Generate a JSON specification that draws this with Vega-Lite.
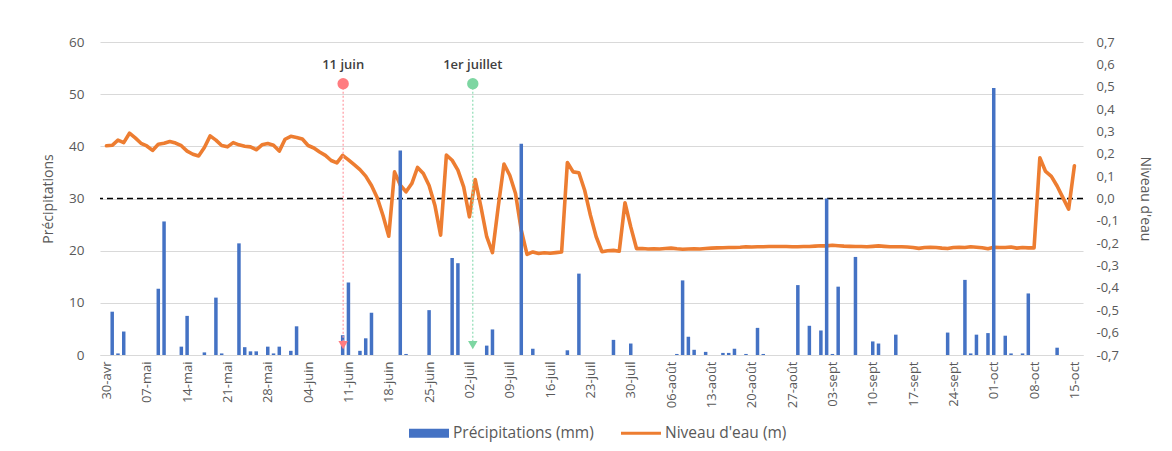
{
  "$schema": "https://vega.github.io/schema/vega-lite/v6.json",
  "width": 983,
  "height": 313,
  "autosize": "none",
  "padding": {"left": 100, "top": 42, "right": 89, "bottom": 96},
  "background": "white",
  "config": {
    "view": {"stroke": null},
    "font": "Open Sans",
    "locale": {
      "number": {"decimal": ",", "thousands": " ", "grouping": [3], "currency": ["", " €"], "minus": "-"},
      "time": {
        "dateTime": "%A %e %B %Y à %X",
        "date": "%d/%m/%Y",
        "time": "%H:%M:%S",
        "periods": ["AM", "PM"],
        "days": ["dimanche", "lundi", "mardi", "mercredi", "jeudi", "vendredi", "samedi"],
        "shortDays": ["dim", "lun", "mar", "mer", "jeu", "ven", "sam"],
        "months": ["janvier", "février", "mars", "avril", "mai", "juin", "juillet", "août", "septembre", "octobre", "novembre", "décembre"],
        "shortMonths": ["janv", "févr", "mars", "avr", "mai", "juin", "juil", "août", "sept", "oct", "nov", "déc"]
      }
    },
    "axis": {
      "labelColor": "#595959",
      "titleColor": "#595959",
      "labelFont": "Open Sans",
      "titleFont": "Open Sans",
      "labelFontSize": 13.5,
      "titleFontSize": 14,
      "titleFontWeight": "normal",
      "domain": false,
      "ticks": false,
      "grid": false,
      "labelOverlap": false,
      "labelSeparation": 0
    }
  },
  "datasets": {
    "journalier": [
      {"date": "2021-04-30T00:00", "niveau": 0.236},
      {"date": "2021-05-01T00:00", "precip": 8.3, "niveau": 0.238},
      {"date": "2021-05-02T00:00", "precip": 0.3, "niveau": 0.261},
      {"date": "2021-05-03T00:00", "precip": 4.5, "niveau": 0.25},
      {"date": "2021-05-04T00:00", "niveau": 0.292},
      {"date": "2021-05-05T00:00", "niveau": 0.271},
      {"date": "2021-05-06T00:00", "niveau": 0.247},
      {"date": "2021-05-07T00:00", "niveau": 0.235},
      {"date": "2021-05-08T00:00", "niveau": 0.215},
      {"date": "2021-05-09T00:00", "precip": 12.7, "niveau": 0.243},
      {"date": "2021-05-10T00:00", "precip": 25.6, "niveau": 0.247},
      {"date": "2021-05-11T00:00", "niveau": 0.255},
      {"date": "2021-05-12T00:00", "niveau": 0.248},
      {"date": "2021-05-13T00:00", "precip": 1.6, "niveau": 0.236},
      {"date": "2021-05-14T00:00", "precip": 7.5, "niveau": 0.212},
      {"date": "2021-05-15T00:00", "niveau": 0.198},
      {"date": "2021-05-16T00:00", "niveau": 0.19},
      {"date": "2021-05-17T00:00", "precip": 0.5, "niveau": 0.228},
      {"date": "2021-05-18T00:00", "niveau": 0.28},
      {"date": "2021-05-19T00:00", "precip": 11.0, "niveau": 0.261},
      {"date": "2021-05-20T00:00", "precip": 0.3, "niveau": 0.237},
      {"date": "2021-05-21T00:00", "niveau": 0.231},
      {"date": "2021-05-22T00:00", "niveau": 0.25},
      {"date": "2021-05-23T00:00", "precip": 21.4, "niveau": 0.24},
      {"date": "2021-05-24T00:00", "precip": 1.5, "niveau": 0.234},
      {"date": "2021-05-25T00:00", "precip": 0.7, "niveau": 0.231},
      {"date": "2021-05-26T00:00", "precip": 0.7, "niveau": 0.218},
      {"date": "2021-05-27T00:00", "niveau": 0.24},
      {"date": "2021-05-28T00:00", "precip": 1.6, "niveau": 0.246},
      {"date": "2021-05-29T00:00", "precip": 0.3, "niveau": 0.238},
      {"date": "2021-05-30T00:00", "precip": 1.6, "niveau": 0.212},
      {"date": "2021-05-31T00:00", "niveau": 0.265},
      {"date": "2021-06-01T00:00", "precip": 0.8, "niveau": 0.278},
      {"date": "2021-06-02T00:00", "precip": 5.5, "niveau": 0.273},
      {"date": "2021-06-03T00:00", "niveau": 0.266},
      {"date": "2021-06-04T00:00", "niveau": 0.237},
      {"date": "2021-06-05T00:00", "niveau": 0.226},
      {"date": "2021-06-06T00:00", "niveau": 0.208},
      {"date": "2021-06-07T00:00", "niveau": 0.193},
      {"date": "2021-06-08T00:00", "niveau": 0.17},
      {"date": "2021-06-09T00:00", "niveau": 0.159},
      {"date": "2021-06-10T00:00", "precip": 3.8, "niveau": 0.193},
      {"date": "2021-06-11T00:00", "precip": 13.9, "niveau": 0.173},
      {"date": "2021-06-12T00:00", "niveau": 0.151},
      {"date": "2021-06-13T00:00", "precip": 0.8, "niveau": 0.129},
      {"date": "2021-06-14T00:00", "precip": 3.2, "niveau": 0.1},
      {"date": "2021-06-15T00:00", "precip": 8.1, "niveau": 0.058},
      {"date": "2021-06-16T00:00", "niveau": 0.003},
      {"date": "2021-06-17T00:00", "niveau": -0.076},
      {"date": "2021-06-18T00:00", "niveau": -0.169},
      {"date": "2021-06-19T00:00", "niveau": 0.119},
      {"date": "2021-06-20T00:00", "precip": 39.2, "niveau": 0.06},
      {"date": "2021-06-21T00:00", "precip": 0.2, "niveau": 0.03},
      {"date": "2021-06-22T00:00", "niveau": 0.067},
      {"date": "2021-06-23T00:00", "niveau": 0.139},
      {"date": "2021-06-24T00:00", "niveau": 0.112},
      {"date": "2021-06-25T00:00", "precip": 8.6, "niveau": 0.058},
      {"date": "2021-06-26T00:00", "niveau": -0.03},
      {"date": "2021-06-27T00:00", "niveau": -0.164},
      {"date": "2021-06-28T00:00", "niveau": 0.194},
      {"date": "2021-06-29T00:00", "precip": 18.6, "niveau": 0.171},
      {"date": "2021-06-30T00:00", "precip": 17.6, "niveau": 0.127},
      {"date": "2021-07-01T00:00", "niveau": 0.052},
      {"date": "2021-07-02T00:00", "niveau": -0.082},
      {"date": "2021-07-03T00:00", "niveau": 0.085},
      {"date": "2021-07-04T00:00", "niveau": -0.037},
      {"date": "2021-07-05T00:00", "precip": 1.8, "niveau": -0.171},
      {"date": "2021-07-06T00:00", "precip": 4.9, "niveau": -0.242},
      {"date": "2021-07-07T00:00", "niveau": -0.037},
      {"date": "2021-07-08T00:00", "niveau": 0.154},
      {"date": "2021-07-09T00:00", "niveau": 0.104},
      {"date": "2021-07-10T00:00", "niveau": 0.022},
      {"date": "2021-07-11T00:00", "precip": 40.5, "niveau": -0.142},
      {"date": "2021-07-12T00:00", "niveau": -0.25},
      {"date": "2021-07-13T00:00", "precip": 1.2, "niveau": -0.239},
      {"date": "2021-07-14T00:00", "niveau": -0.246},
      {"date": "2021-07-15T00:00", "niveau": -0.243},
      {"date": "2021-07-16T00:00", "niveau": -0.245},
      {"date": "2021-07-17T00:00", "niveau": -0.242},
      {"date": "2021-07-18T00:00", "niveau": -0.239},
      {"date": "2021-07-19T00:00", "precip": 0.9, "niveau": 0.161},
      {"date": "2021-07-20T00:00", "niveau": 0.119},
      {"date": "2021-07-21T00:00", "precip": 15.6, "niveau": 0.115},
      {"date": "2021-07-22T00:00", "niveau": 0.037},
      {"date": "2021-07-23T00:00", "niveau": -0.075},
      {"date": "2021-07-24T00:00", "niveau": -0.171},
      {"date": "2021-07-25T00:00", "niveau": -0.238},
      {"date": "2021-07-26T00:00", "niveau": -0.234},
      {"date": "2021-07-27T00:00", "precip": 2.9, "niveau": -0.232},
      {"date": "2021-07-28T00:00", "niveau": -0.236},
      {"date": "2021-07-29T00:00", "niveau": -0.019},
      {"date": "2021-07-30T00:00", "precip": 2.2, "niveau": -0.127},
      {"date": "2021-07-31T00:00", "niveau": -0.224},
      {"date": "2021-08-01T00:00", "niveau": -0.224},
      {"date": "2021-08-02T00:00", "niveau": -0.226},
      {"date": "2021-08-03T00:00", "niveau": -0.225},
      {"date": "2021-08-04T00:00", "niveau": -0.226},
      {"date": "2021-08-05T00:00", "niveau": -0.224},
      {"date": "2021-08-06T00:00", "niveau": -0.222},
      {"date": "2021-08-07T00:00", "precip": 0.2, "niveau": -0.225},
      {"date": "2021-08-08T00:00", "precip": 14.3, "niveau": -0.227},
      {"date": "2021-08-09T00:00", "precip": 3.5, "niveau": -0.226},
      {"date": "2021-08-10T00:00", "precip": 1.0, "niveau": -0.225},
      {"date": "2021-08-11T00:00", "niveau": -0.226},
      {"date": "2021-08-12T00:00", "precip": 0.6, "niveau": -0.224},
      {"date": "2021-08-13T00:00", "niveau": -0.222},
      {"date": "2021-08-14T00:00", "niveau": -0.221},
      {"date": "2021-08-15T00:00", "precip": 0.4, "niveau": -0.22},
      {"date": "2021-08-16T00:00", "precip": 0.4, "niveau": -0.219},
      {"date": "2021-08-17T00:00", "precip": 1.2, "niveau": -0.219},
      {"date": "2021-08-18T00:00", "niveau": -0.218},
      {"date": "2021-08-19T00:00", "precip": 0.2, "niveau": -0.216},
      {"date": "2021-08-20T00:00", "niveau": -0.217},
      {"date": "2021-08-21T00:00", "precip": 5.2, "niveau": -0.216},
      {"date": "2021-08-22T00:00", "precip": 0.2, "niveau": -0.216},
      {"date": "2021-08-23T00:00", "niveau": -0.215},
      {"date": "2021-08-24T00:00", "niveau": -0.215},
      {"date": "2021-08-25T00:00", "niveau": -0.215},
      {"date": "2021-08-26T00:00", "niveau": -0.215},
      {"date": "2021-08-27T00:00", "niveau": -0.216},
      {"date": "2021-08-28T00:00", "precip": 13.4, "niveau": -0.216},
      {"date": "2021-08-29T00:00", "niveau": -0.215},
      {"date": "2021-08-30T00:00", "precip": 5.6, "niveau": -0.215},
      {"date": "2021-08-31T00:00", "niveau": -0.213},
      {"date": "2021-09-01T00:00", "precip": 4.7, "niveau": -0.211},
      {"date": "2021-09-02T00:00", "precip": 30.0, "niveau": -0.212},
      {"date": "2021-09-03T00:00", "precip": 0.2, "niveau": -0.209},
      {"date": "2021-09-04T00:00", "precip": 13.1, "niveau": -0.211},
      {"date": "2021-09-05T00:00", "niveau": -0.213},
      {"date": "2021-09-06T00:00", "niveau": -0.214},
      {"date": "2021-09-07T00:00", "precip": 18.8, "niveau": -0.215},
      {"date": "2021-09-08T00:00", "niveau": -0.215},
      {"date": "2021-09-09T00:00", "niveau": -0.216},
      {"date": "2021-09-10T00:00", "precip": 2.6, "niveau": -0.214},
      {"date": "2021-09-11T00:00", "precip": 2.2, "niveau": -0.212},
      {"date": "2021-09-12T00:00", "niveau": -0.214},
      {"date": "2021-09-13T00:00", "niveau": -0.216},
      {"date": "2021-09-14T00:00", "precip": 3.9, "niveau": -0.216},
      {"date": "2021-09-15T00:00", "niveau": -0.216},
      {"date": "2021-09-16T00:00", "niveau": -0.217},
      {"date": "2021-09-17T00:00", "niveau": -0.219},
      {"date": "2021-09-18T00:00", "niveau": -0.223},
      {"date": "2021-09-19T00:00", "niveau": -0.219},
      {"date": "2021-09-20T00:00", "niveau": -0.218},
      {"date": "2021-09-21T00:00", "niveau": -0.219},
      {"date": "2021-09-22T00:00", "niveau": -0.222},
      {"date": "2021-09-23T00:00", "precip": 4.3, "niveau": -0.224},
      {"date": "2021-09-24T00:00", "niveau": -0.219},
      {"date": "2021-09-25T00:00", "niveau": -0.218},
      {"date": "2021-09-26T00:00", "precip": 14.4, "niveau": -0.219},
      {"date": "2021-09-27T00:00", "precip": 0.3, "niveau": -0.216},
      {"date": "2021-09-28T00:00", "precip": 3.9, "niveau": -0.218},
      {"date": "2021-09-29T00:00", "niveau": -0.22},
      {"date": "2021-09-30T00:00", "precip": 4.2, "niveau": -0.225},
      {"date": "2021-10-01T00:00", "precip": 51.2, "niveau": -0.218},
      {"date": "2021-10-02T00:00", "niveau": -0.219},
      {"date": "2021-10-03T00:00", "precip": 3.7, "niveau": -0.219},
      {"date": "2021-10-04T00:00", "precip": 0.3, "niveau": -0.217},
      {"date": "2021-10-05T00:00", "niveau": -0.222},
      {"date": "2021-10-06T00:00", "precip": 0.3, "niveau": -0.219},
      {"date": "2021-10-07T00:00", "precip": 11.8, "niveau": -0.221},
      {"date": "2021-10-08T00:00", "niveau": -0.221},
      {"date": "2021-10-09T00:00", "niveau": 0.182},
      {"date": "2021-10-10T00:00", "niveau": 0.121},
      {"date": "2021-10-11T00:00", "niveau": 0.099},
      {"date": "2021-10-12T00:00", "precip": 1.4, "niveau": 0.056},
      {"date": "2021-10-13T00:00", "niveau": 0.004},
      {"date": "2021-10-14T00:00", "niveau": -0.048},
      {"date": "2021-10-15T00:00", "niveau": 0.146}
    ],
    "reperes": [
      {"date": "2021-06-10T02:00", "label": "11 juin"},
      {"date": "2021-07-02T14:00", "label": "1er juillet"}
    ]
  },
  "layer": [
    {
      "layer": [
        {
          "data": {"name": "journalier"},
          "mark": {"type": "bar", "width": 3.5},
          "encoding": {
            "x": {
              "field": "date",
              "type": "temporal",
              "scale": {
                "domain": [
                  {"year": 2021, "month": "apr", "date": 29, "hours": 18},
                  {"year": 2021, "month": "oct", "date": 15, "hours": 15}
                ],
                "nice": false
              },
              "axis": {
                "title": null,
                "format": "%d-%b",
                "labelAngle": -90,
                "labelFontSize": 13,
                "labelPadding": 6,
                "domain": true,
                "domainColor": "#d9d9d9",
                "domainWidth": 1,
                "values": [
                  {"year": 2021, "month": "apr", "date": 30},
                  {"year": 2021, "month": "may", "date": 7},
                  {"year": 2021, "month": "may", "date": 14},
                  {"year": 2021, "month": "may", "date": 21},
                  {"year": 2021, "month": "may", "date": 28},
                  {"year": 2021, "month": "jun", "date": 4},
                  {"year": 2021, "month": "jun", "date": 11},
                  {"year": 2021, "month": "jun", "date": 18},
                  {"year": 2021, "month": "jun", "date": 25},
                  {"year": 2021, "month": "jul", "date": 2},
                  {"year": 2021, "month": "jul", "date": 9},
                  {"year": 2021, "month": "jul", "date": 16},
                  {"year": 2021, "month": "jul", "date": 23},
                  {"year": 2021, "month": "jul", "date": 30},
                  {"year": 2021, "month": "aug", "date": 6},
                  {"year": 2021, "month": "aug", "date": 13},
                  {"year": 2021, "month": "aug", "date": 20},
                  {"year": 2021, "month": "aug", "date": 27},
                  {"year": 2021, "month": "sep", "date": 3},
                  {"year": 2021, "month": "sep", "date": 10},
                  {"year": 2021, "month": "sep", "date": 17},
                  {"year": 2021, "month": "sep", "date": 24},
                  {"year": 2021, "month": "oct", "date": 1},
                  {"year": 2021, "month": "oct", "date": 8},
                  {"year": 2021, "month": "oct", "date": 15}
                ]
              }
            },
            "y": {
              "field": "precip",
              "type": "quantitative",
              "scale": {"domain": [0, 60], "nice": false},
              "axis": {
                "orient": "left",
                "title": "Précipitations",
                "values": [0, 10, 20, 30, 40, 50, 60],
                "grid": true,
                "gridColor": "#d9d9d9",
                "gridWidth": 1,
                "labelPadding": 16,
                "titlePadding": 13
              }
            },
            "opacity": {"value": 0}
          }
        },
        {
          "data": {"values": [{}]},
          "mark": {"type": "rule", "color": "#000000", "strokeDash": [6, 4], "strokeWidth": 1.5},
          "encoding": {"y": {"datum": 30, "type": "quantitative"}}
        }
      ]
    },
    {
      "data": {"name": "journalier"},
      "mark": {"type": "line", "strokeWidth": 3.6, "strokeJoin": "round", "strokeCap": "round"},
      "encoding": {
        "x": {"field": "date", "type": "temporal"},
        "y": {
          "field": "niveau",
          "type": "quantitative",
          "scale": {"domain": [-0.7, 0.7], "nice": false, "zero": false},
          "axis": {
            "orient": "right",
            "title": "Niveau d'eau",
            "values": [-0.7, -0.6, -0.5, -0.4, -0.3, -0.2, -0.1, 0, 0.1, 0.2, 0.3, 0.4, 0.5, 0.6, 0.7],
            "format": ".1f",
            "labelPadding": 13,
            "titlePadding": 19,
            "labelOverlap": false,
            "labelFontSize": 13,
            "grid": false
          }
        },
        "color": {
          "datum": "Niveau d'eau (m)",
          "scale": {
            "domain": ["Précipitations (mm)", "Niveau d'eau (m)"],
            "range": ["#4472C4", "#ED7D31"]
          },
          "legend": {
            "orient": "none",
            "legendX": 309,
            "legendY": 371,
            "direction": "horizontal",
            "title": null,
            "labelFontSize": 15.5,
            "labelColor": "#595959",
            "labelFont": "Open Sans",
            "symbolSize": 1600,
            "columnPadding": 27,
            "labelOffset": 4,
            "encode": {
              "symbols": {
                "update": {
                  "shape": {"signal": "datum.value == 'Précipitations (mm)' ? 'M-1,-0.22H1V0.22H-1Z' : 'M-1,-0.08H1V0.08H-1Z'"},
                  "fill": {"signal": "datum.value == 'Précipitations (mm)' ? '#4472C4' : '#ED7D31'"},
                  "strokeWidth": {"value": 0}
                }
              }
            }
          }
        }
      }
    },
    {
      "layer": [
        {
          "data": {"name": "journalier"},
          "mark": {"type": "bar", "width": 3.5},
          "encoding": {
            "x": {"field": "date", "type": "temporal"},
            "y": {"field": "precip", "type": "quantitative", "scale": {"domain": [0, 60], "nice": false}, "axis": null},
            "color": {"datum": "Précipitations (mm)"}
          }
        },
        {
          "data": {"name": "reperes"},
          "mark": {"type": "rule", "strokeDash": [2, 2], "strokeWidth": 1.2},
          "encoding": {
            "x": {"field": "date", "type": "temporal"},
            "y": {"datum": 52, "type": "quantitative"},
            "y2": {"datum": 1.7},
            "stroke": {
              "field": "label",
              "type": "nominal",
              "scale": {"domain": ["11 juin", "1er juillet"], "range": ["#FF9AA2", "#8FDDB4"]},
              "legend": null
            }
          }
        },
        {
          "data": {"name": "reperes"},
          "mark": {"type": "point", "shape": "circle", "filled": true, "size": 130, "opacity": 1},
          "encoding": {
            "x": {"field": "date", "type": "temporal"},
            "y": {"datum": 52, "type": "quantitative"},
            "fill": {
              "field": "label",
              "type": "nominal",
              "scale": {"domain": ["11 juin", "1er juillet"], "range": ["#FF7C80", "#7DD6A2"]},
              "legend": null
            }
          }
        },
        {
          "data": {"name": "reperes"},
          "mark": {"type": "point", "shape": "triangle-down", "filled": true, "size": 90, "opacity": 1},
          "encoding": {
            "x": {"field": "date", "type": "temporal"},
            "y": {"datum": 1.9, "type": "quantitative"},
            "fill": {"field": "label", "type": "nominal", "legend": null}
          }
        },
        {
          "data": {"name": "reperes"},
          "mark": {"type": "text", "fontSize": 13, "fontWeight": 600, "color": "#404040", "font": "Open Sans"},
          "encoding": {
            "x": {"field": "date", "type": "temporal"},
            "y": {"datum": 55.6, "type": "quantitative"},
            "text": {"field": "label"}
          }
        }
      ]
    }
  ],
  "resolve": {"scale": {"y": "independent"}}
}
